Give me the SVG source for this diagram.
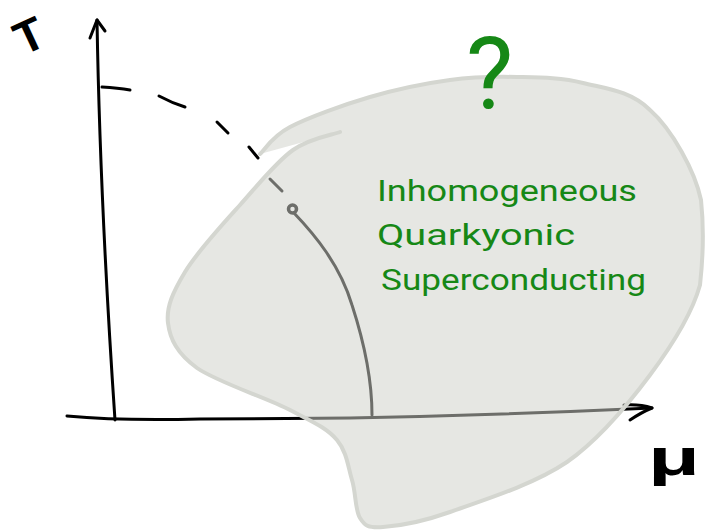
<svg xmlns="http://www.w3.org/2000/svg" width="705" height="530" viewBox="0 0 705 530">
<style>
.ink{fill:none;stroke:#000;stroke-width:3;stroke-linecap:round;stroke-linejoin:round}
.label{font-family:"Liberation Sans",Arial,sans-serif;font-weight:bold;fill:#000}
.hand{font-family:Roboto,"Liberation Sans",sans-serif;font-weight:400;fill:#168816}
</style>
<rect width="705" height="530" fill="#fff"/>
<g id="axes" class="ink">
<path d="M115,420 Q100,200 97,20"/>
<path d="M90,38 L97,20 L105,31"/>
<path d="M67,416 Q120,421 200,419 L350,418 Q500,415 652,408"/>
<path d="M624,405 Q640,404 652,408 Q642,412 630,420"/>
</g>
<g id="dashed-line" class="ink">
<path d="M102,87 Q118,88 130,90"/>
<path d="M159,96 Q172,103 185,107"/>
<path d="M217,122 L228,133"/>
<path d="M249,147 L258,158"/>
<path d="M270,179 L282,191"/>
</g>
<g id="phase-line" class="ink">
<circle cx="292.5" cy="209" r="4" stroke-width="3.5"/>
<path d="M294,213 C315,235 340,265 352,305 C365,345 372,380 372,415"/>
</g>
<g id="region">
<path fill="rgb(208,210,202)" fill-opacity="0.525" stroke="none" d="M340,132 C332,135 310,138 293,150 C276,162 258,185 240,205 C222,225 197,252 185,272 C173,292 166,307 168,323 C170,339 177,353.5 197,368 C217,382 267,398 290,410 C313,422 327,428 337,440 C347,452 348,467 352,480 C356,493 355,510 360,518 C365,526 368,528 383,527 C398,526 419,523 450,512 C481,501 533,485 567,462 C600,439 628,404.5 650,375 C672,345.5 692,314 700,285 C703,258 704,228 701,200 C695,171 672,129.5 650,110 C630.5,90.5 605,88.5 583,83 C561,77.5 539,77.5 517,77 C495,76.5 474.5,76.7 450,80 C425.5,83.3 396.7,89.2 370,97 C343.3,104.8 308.3,117.5 290,127 C271.7,136.5 265,149.5 260,154 Z"/>
<path fill="none" stroke="#d4d6d0" stroke-width="4" stroke-linecap="round" stroke-linejoin="round" d="M340,132 C332,135 310,138 293,150 C276,162 258,185 240,205 C222,225 197,252 185,272 C173,292 166,307 168,323 C170,339 177,353.5 197,368 C217,382 267,398 290,410 C313,422 327,428 337,440 C347,452 348,467 352,480 C356,493 355,510 360,518 C365,526 368,528 383,527 C398,526 419,523 450,512 C481,501 533,485 567,462 C600,439 628,404.5 650,375 C672,345.5 692,314 700,285 C703,258 704,228 701,200 C695,171 672,129.5 650,110 C630.5,90.5 605,88.5 583,83 C561,77.5 539,77.5 517,77 C495,76.5 474.5,76.7 450,80 C425.5,83.3 396.7,89.2 370,97 C343.3,104.8 308.3,117.5 290,127 C271.7,136.5 265,149.5 260,154"/>
</g>
<g id="label-T">
<text class="label" font-size="46" text-anchor="middle" transform="translate(36,50) rotate(-25)">T</text>
</g>
<g id="label-mu">
<text class="label" font-size="52" x="648" y="475" textLength="52" lengthAdjust="spacingAndGlyphs">μ</text>
</g>
<g id="question">
<text class="hand" font-size="100" font-weight="300" x="466" y="108">?</text>
</g>
<g id="phase-label">
<text class="hand" font-size="29" x="377" y="201" textLength="260" lengthAdjust="spacingAndGlyphs">Inhomogeneous</text>
<text class="hand" font-size="29" x="377" y="245" textLength="198" lengthAdjust="spacingAndGlyphs">Quarkyonic</text>
<text class="hand" font-size="29" x="381" y="290" textLength="265" lengthAdjust="spacingAndGlyphs">Superconducting</text>
</g>
</svg>
